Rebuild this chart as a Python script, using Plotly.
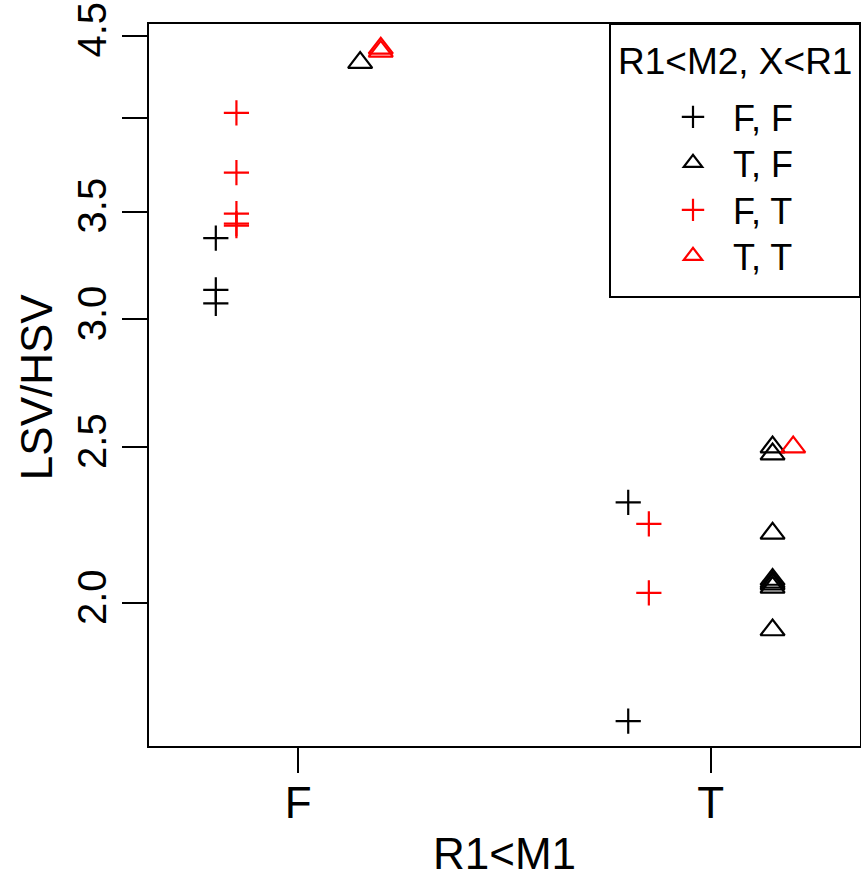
import math
import plotly.graph_objects as go

# ---- data ----
categories = ["F", "T"]                      # R1<M1
subgroups = ["F, F", "T, F", "F, T", "T, T"]  # R1<M2, X<R1

ff_at_F = [3.37, 3.13, 3.07]
ff_at_T = [2.31, 1.69]
tf_at_F = [4.33]
tf_at_T = [2.50, 2.475, 2.21, 2.069, 2.061, 2.055, 2.046, 1.925]
ft_at_F = [4.03, 3.70, 3.49, 3.44, 3.43]
ft_at_T = [2.24, 2.03]
tt_at_F = [4.42, 4.40]
tt_at_T = [2.50]

y_tick_values = [2.0, 2.5, 3.0, 3.5, 4.0, 4.5]
y_tick_labels = ["2.0", "2.5", "3.0", "3.5", "", "4.5"]

# ---- styles ----
offsets = {"F, F": -0.20, "T, F": 0.15, "F, T": -0.15, "T, T": 0.20}
colors = {"F, F": "#000000", "T, F": "#000000", "F, T": "#ff0000", "T, T": "#ff0000"}
symbols = {"F, F": "cross-thin", "T, F": "triangle-up-open",
           "F, T": "cross-thin", "T, T": "triangle-up-open"}
sizes = {"F, F": 18, "T, F": 21, "F, T": 18, "T, T": 21}
legend_ids = {"F, F": "legend", "T, F": "legend2", "F, T": "legend3", "T, T": "legend4"}
legend_rows_px = {"F, F": 117, "T, F": 163, "F, T": 210, "T, T": 256}

series = {
    "F, F": (ff_at_F, ff_at_T),
    "T, F": (tf_at_F, tf_at_T),
    "F, T": (ft_at_F, ft_at_T),
    "T, T": (tt_at_F, tt_at_T),
}

FONT = "Liberation Sans, Arial, Helvetica, sans-serif"

W, H = 861, 881
ML, MR, MT, MB = 149, 1, 24, 135
PW, PH = W - ML - MR, H - MT - MB


def px_x(p):
    return (p - ML) / PW


def px_y(p):
    return 1 - (p - MT) / PH


fig = go.Figure()
for sg in subgroups:
    at_F, at_T = series[sg]
    xs = [1 + offsets[sg]] * len(at_F) + [2 + offsets[sg]] * len(at_T)
    ys = list(at_F) + list(at_T)
    fig.add_trace(go.Scatter(
        x=xs, y=ys, mode="markers", name=sg, legend=legend_ids[sg],
        marker=dict(symbol=symbols[sg], size=sizes[sg], color=colors[sg],
                    line=dict(color=colors[sg], width=2.2)),
    ))

legend_layouts = {}
for sg in subgroups:
    legend_layouts[legend_ids[sg]] = dict(
        x=px_x(610), xanchor="left", y=px_y(legend_rows_px[sg]), yanchor="middle",
        borderwidth=0, bgcolor="rgba(0,0,0,0)",
        font=dict(size=36, family=FONT),
        indentation=43,
        itemwidth=70,
    )

fig.update_layout(
    width=W, height=H,
    margin=dict(l=ML, r=MR, t=MT, b=MB, autoexpand=False),
    paper_bgcolor="white", plot_bgcolor="white",
    font=dict(family=FONT, color="black"),
    showlegend=True,
    xaxis=dict(
        range=[0.638, 2.362],
        tickmode="array", tickvals=[1, 2], ticktext=categories,
        ticks="outside", ticklen=25, tickwidth=2, tickcolor="black",
        showline=True, linecolor="black", linewidth=2, mirror=True,
        showgrid=False, zeroline=False,
        tickfont=dict(size=44, family=FONT),
        ticklabelstandoff=-8,
    ),
    yaxis=dict(
        type="log",
        range=[math.log10(1.631), math.log10(4.576)],
        tickmode="array", tickvals=y_tick_values, ticktext=y_tick_labels,
        ticks="outside", ticklen=25, tickwidth=2, tickcolor="black",
        showline=True, linecolor="black", linewidth=2, mirror=True,
        showgrid=False, zeroline=False,
        tickangle=-90,
        tickfont=dict(size=40, family=FONT),
    ),
    shapes=[
        dict(type="rect", xref="paper", yref="paper",
             x0=px_x(610), x1=px_x(860), y0=px_y(297), y1=px_y(24),
             line=dict(color="black", width=2), fillcolor="rgba(0,0,0,0)",
             layer="above"),
    ],
    annotations=[
        dict(text="R1<M1", xref="paper", yref="paper", x=0.5, y=0,
             xanchor="center", yanchor="middle", yshift=-107,
             showarrow=False, font=dict(size=44, family=FONT)),
        dict(text="LSV/HSV", xref="paper", yref="paper", x=0, y=0.497,
             xanchor="center", yanchor="middle", xshift=-113, textangle=-90,
             showarrow=False, font=dict(size=44, family=FONT)),
        dict(text="R1<M2, X<R1", xref="paper", yref="paper",
             x=px_x(735), y=px_y(62), xanchor="center", yanchor="middle",
             showarrow=False, font=dict(size=37, family=FONT)),
    ],
    **legend_layouts,
)

fig.write_html("out.html", config={"displayModeBar": False},
               post_script="document.body.style.margin='0';")
